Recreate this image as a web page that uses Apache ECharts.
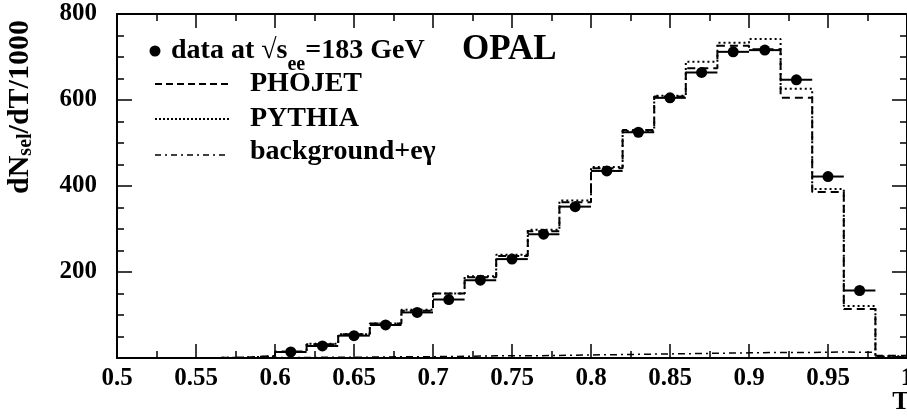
<!DOCTYPE html>
<html><head><meta charset="utf-8">
<script src="https://cdn.jsdelivr.net/npm/echarts@6/dist/echarts.min.js"></script>
<style>html,body{margin:0;padding:0;background:#fff}#c{width:907px;height:420px}</style>
</head><body><div id="c"></div>
<script>
// ---- data ----
const binEdges = [0.50,0.52,0.54,0.56,0.58,0.60,0.62,0.64,0.66,0.68,0.70,0.72,0.74,0.76,0.78,0.80,0.82,0.84,0.86,0.88,0.90,0.92,0.94,0.96,0.98,1.00];
const phojet = [0,0,0,1,5,15,32,55,80,110,150,188,237,295,362,441,530,608,674,726,718,605,386,114,5];
const pythia = [0,0,0,1,4,14,33,55,80,112,150,190,240,298,366,444,528,610,689,733,742,626,393,121,4];
const background = [0,0,0,0,1,1,2,2,3,3,4,5,5,6,7,8,9,10,11,12,13,13,14,13,3];
const dataT = [0.61,0.63,0.65,0.67,0.69,0.71,0.73,0.75,0.77,0.79,0.81,0.83,0.85,0.87,0.89,0.91,0.93,0.95,0.97];
const dataN = [14,28,52,77,106,136,181,230,288,352,435,525,605,664,712,716,647,422,157];
const yTickLabels = ['', '200', '400', '600', '800'];

const FONT = "'Liberation Serif','Times New Roman',serif";
const mctx = document.createElement('canvas').getContext('2d');
function tw(text, size){ mctx.font = 'bold ' + size + 'px ' + FONT; return mctx.measureText(text).width; }
function steps(vals){
  const out = [];
  for (let i = 0; i < vals.length; i++){
    out.push([binEdges[i], vals[i]]);
    out.push([binEdges[i+1], vals[i]]);
  }
  return out;
}
const halfBin = (binEdges[1]-binEdges[0])/2;

const chart = echarts.init(document.getElementById('c'), null, {renderer:'canvas'});
const axisCommon = {
  type:'value', min:0.5, max:1.0, interval:0.05,
  axisLine:{show:true, onZero:false, lineStyle:{color:'#000', width:2}},
  axisTick:{show:true, inside:true, length:14, lineStyle:{color:'#000', width:1.5}},
  minorTick:{show:true, splitNumber:2, length:7, lineStyle:{color:'#000', width:1.5}},
  splitLine:{show:false}, minorSplitLine:{show:false}
};
const yCommon = {
  type:'value', min:0, max:800, interval:200,
  axisLine:{show:true, onZero:false, lineStyle:{color:'#000', width:2}},
  axisTick:{show:true, inside:true, length:15, lineStyle:{color:'#000', width:1.5}},
  minorTick:{show:true, splitNumber:4, length:7, lineStyle:{color:'#000', width:1.5}},
  splitLine:{show:false}, minorSplitLine:{show:false}
};

// legend row 1 pieces
const r1x = 171, r1y = 51;
const w1 = tw('data at √s', 28), w2 = tw('ee', 20);
// y title pieces (rotated, reading upward from bottom end)
const ytBottom = 194, ytX = 20;
const wdN = tw('dN', 30), wsel = tw('sel', 20);

const option = {
  animation:false,
  backgroundColor:'#fff',
  grid:{left:117, right:0, top:14, bottom:62, containLabel:false, outerBoundsMode:'none'},
  xAxis:[
    Object.assign({}, axisCommon, {position:'bottom',
      axisLabel:{show:true, margin:8, color:'#000', fontFamily:FONT, fontWeight:'bold', fontSize:25,
        hideOverlap:false, showMaxLabel:true, showMinLabel:true,
        formatter: v => String(+v.toFixed(2))}}),
    Object.assign({}, axisCommon, {position:'top', axisLabel:{show:false}})
  ],
  yAxis:[
    Object.assign({}, yCommon, {position:'left',
      axisLabel:{show:true, margin:20, color:'#000', fontFamily:FONT, fontWeight:'bold', fontSize:25,
        formatter: v => yTickLabels[Math.round(v/200)]}}),
    Object.assign({}, yCommon, {position:'right', axisLabel:{show:false}})
  ],
  series:[
    {type:'line', name:'PHOJET', data:steps(phojet), symbol:'none', silent:true,
      lineStyle:{color:'#000', width:2, type:[8,5]}, z:3},
    {type:'line', name:'PYTHIA', data:steps(pythia), symbol:'none', silent:true,
      lineStyle:{color:'#000', width:2, type:[2,3]}, z:3},
    {type:'line', name:'background+eγ', data:steps(background), symbol:'none', silent:true,
      lineStyle:{color:'#000', width:1.5, type:[7,4,2,4]}, z:3},
    {type:'custom', name:'data', data:dataT.map((t,i)=>[t, dataN[i]]), encode:{x:0,y:1}, z:5,
      renderItem:(params, api)=>{
        const x = api.value(0), y = api.value(1);
        const p0 = api.coord([x-halfBin, y]), p1 = api.coord([x+halfBin, y]), c = api.coord([x, y]);
        return {type:'group', children:[
          {type:'line', shape:{x1:p0[0], y1:p0[1], x2:p1[0], y2:p1[1]}, style:{stroke:'#000', lineWidth:2}},
          {type:'circle', shape:{cx:c[0], cy:c[1], r:5.5}, style:{fill:'#000'}}
        ]};
      }}
  ],
  graphic:[
    // y axis title: dN_sel/dT/1000
    {type:'text', x:ytX, y:ytBottom, rotation:Math.PI/2, z:10,
      style:{text:'dN', align:'left', verticalAlign:'middle', font:'bold 30px '+FONT, fill:'#000'}},
    {type:'text', x:ytX+6, y:ytBottom-wdN, rotation:Math.PI/2, z:10,
      style:{text:'sel', align:'left', verticalAlign:'middle', font:'bold 20px '+FONT, fill:'#000'}},
    {type:'text', x:ytX, y:ytBottom-wdN-wsel, rotation:Math.PI/2, z:10,
      style:{text:'/dT/1000', align:'left', verticalAlign:'middle', font:'bold 30px '+FONT, fill:'#000'}},
    // x axis title
    {type:'text', x:901, y:402, z:10, style:{text:'T', align:'center', verticalAlign:'middle', font:"bold 26px "+FONT, fill:'#000'}},
    // legend
    {type:'circle', shape:{cx:155, cy:51, r:5.5}, style:{fill:'#000'}, z:10},
    {type:'text', x:r1x, y:r1y, z:10, style:{text:'data at √s', align:'left', verticalAlign:'middle', font:'bold 28px '+FONT, fill:'#000'}},
    {type:'text', x:r1x+w1, y:r1y+14, z:10, style:{text:'ee', align:'left', verticalAlign:'middle', font:'bold 20px '+FONT, fill:'#000'}},
    {type:'text', x:r1x+w1+w2, y:r1y, z:10, style:{text:'=183 GeV', align:'left', verticalAlign:'middle', font:'bold 28px '+FONT, fill:'#000'}},
    {type:'text', x:462, y:50, z:10, style:{text:'OPAL', align:'left', verticalAlign:'middle', font:"bold 35px "+FONT, fill:'#000'}},
    {type:'line', shape:{x1:155, y1:84, x2:229, y2:84}, style:{stroke:'#000', lineWidth:2, lineDash:[7,4]}, z:10},
    {type:'text', x:250, y:84, z:10, style:{text:'PHOJET', align:'left', verticalAlign:'middle', font:"bold 28px "+FONT, fill:'#000'}},
    {type:'line', shape:{x1:155, y1:119, x2:229, y2:119}, style:{stroke:'#000', lineWidth:2, lineDash:[2,2]}, z:10},
    {type:'text', x:250, y:119, z:10, style:{text:'PYTHIA', align:'left', verticalAlign:'middle', font:"bold 28px "+FONT, fill:'#000'}},
    {type:'line', shape:{x1:155, y1:155, x2:229, y2:155}, style:{stroke:'#000', lineWidth:1.5, lineDash:[6,4,2,4]}, z:10},
    {type:'text', x:250, y:152, z:10, style:{text:'background+eγ', align:'left', verticalAlign:'middle', font:"bold 28px "+FONT, fill:'#000'}}
  ]
};
chart.setOption(option);
</script></body></html>
